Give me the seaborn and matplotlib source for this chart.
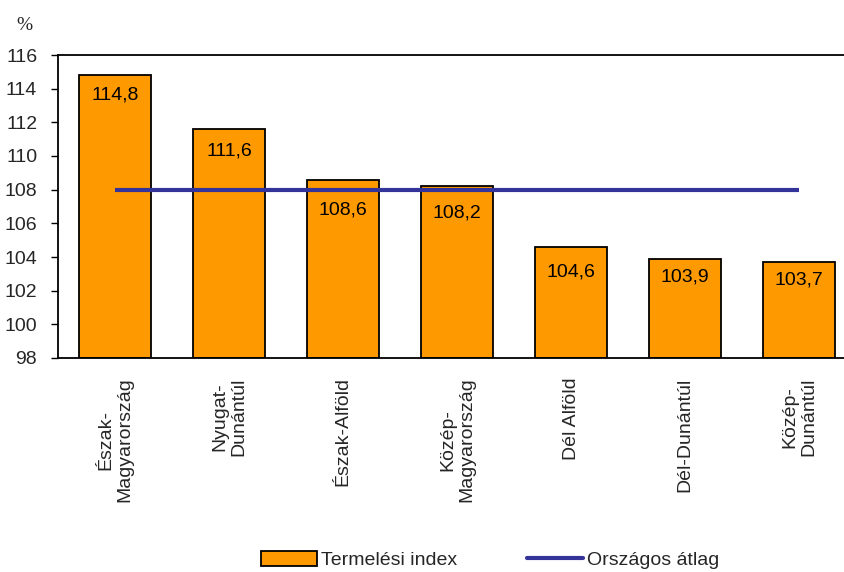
import matplotlib
matplotlib.use("Agg")
import matplotlib.pyplot as plt
import seaborn as sns
import pandas as pd
from matplotlib.patches import Patch
from matplotlib.lines import Line2D

regions = ["Észak-\nMagyarország", "Nyugat-\nDunántúl", "Észak-Alföld",
           "Közép-\nMagyarország", "Dél Alföld", "Dél-Dunántúl", "Közép-\nDunántúl"]
index_values = [114.8, 111.6, 108.6, 108.2, 104.6, 103.9, 103.7]
value_labels = ["114,8", "111,6", "108,6", "108,2", "104,6", "103,9", "103,7"]
national_avg = 108.0
y_ticks = [98, 100, 102, 104, 106, 108, 110, 112, 114, 116]
series_bar = "Termelési index"
series_line = "Országos átlag"

sns.set_theme(style="white")
plt.rcParams["font.family"] = ["Liberation Sans", "DejaVu Sans"]

base = 98
df = pd.DataFrame({"region": regions, "value": [v - base for v in index_values]})

fig = plt.figure(figsize=(8.44, 5.72), dpi=100)
ax = fig.add_axes([58/844, 1-358/572, (856-58)/844, (358-55)/572])

sns.barplot(data=df, x="region", y="value", ax=ax, color="#FF9900",
            width=0.63, edgecolor="black", linewidth=1.3, saturation=1,
            zorder=2)
for p in ax.patches:
    p.set_y(base)

ax.plot([0, len(regions) - 1], [national_avg, national_avg], color="#333399",
        linewidth=3.0, zorder=3, solid_capstyle="butt")

label_offsets_px = [11, 13, 22, 18, 17, 10, 9]
for i, (v, lab) in enumerate(zip(index_values, value_labels)):
    ax.annotate(lab, (i, v), xytext=(0, -label_offsets_px[i] * 0.72),
                textcoords="offset points", ha="center", va="top",
                fontsize=14, color="black", zorder=4)

ax.set_ylim(98, 116)
ax.set_xlim(-0.5, len(regions) - 0.5)
ax.set_yticks(y_ticks)
ax.set_yticklabels([str(t) for t in y_ticks], fontsize=14)
ax.tick_params(axis="y", left=True, length=5, width=1, color="black", pad=10)
ax.tick_params(axis="x", bottom=False, length=0, pad=14)
ax.set_xticks(range(len(regions)))
ax.set_xticklabels(regions, rotation=90, fontsize=14, ha="center", va="top",
                   multialignment="center", linespacing=1.15)
ax.set_xlabel("")
ax.set_ylabel("")
for side in ["left", "top", "bottom"]:
    ax.spines[side].set_visible(True)
    ax.spines[side].set_color("black")
    ax.spines[side].set_linewidth(1.3)
ax.spines["right"].set_visible(False)
ax.grid(False)

fig.text(24/844, 1-25/572, "%", fontsize=14, family=["Liberation Serif"],
         ha="center", va="center")

handles = [Patch(facecolor="#FF9900", edgecolor="black", linewidth=1.3),
           Line2D([0], [0], color="#333399", linewidth=3.0)]
fig.legend(handles, [series_bar, series_line], loc="center",
           bbox_to_anchor=(490/844, 1-560/572), ncol=2, frameon=False,
           fontsize=14, handlelength=2.9, handleheight=0.8,
           columnspacing=3.6, handletextpad=0.2)

fig.savefig("out.png", dpi=100)
